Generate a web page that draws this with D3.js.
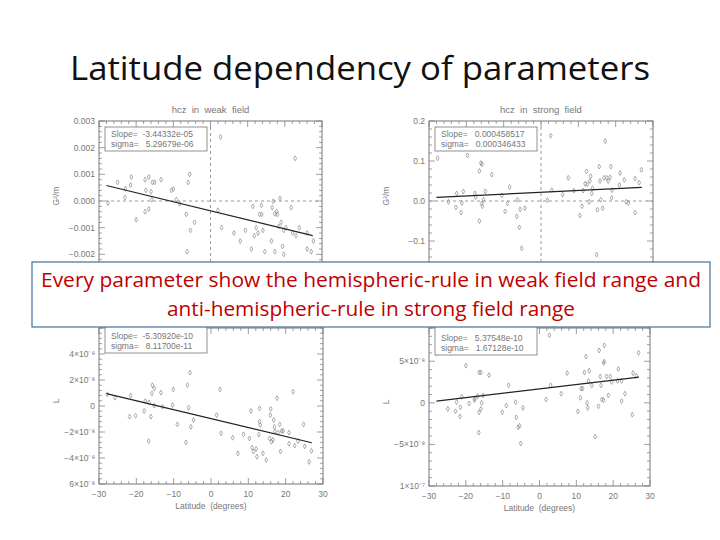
<!DOCTYPE html>
<html><head><meta charset="utf-8">
<script src="https://cdn.jsdelivr.net/npm/d3@7"></script>
<style>body{margin:0;background:#fff}</style>
</head><body><svg id="c" width="720" height="540"></svg>
<script>
const titleText = "Latitude dependency of parameters";
const noteLines = ["Every parameter show the hemispheric-rule in weak field range and","anti-hemispheric-rule in strong field range"];

const panelTitles = ["hcz  in  weak  field","hcz  in  strong  field","",""];
const slopeTexts = [["Slope=  -3.44332e-05","sigma=   5.29679e-06"],["Slope=   0.000458517","sigma=   0.000346433"],["Slope=  -5.30920e-10","sigma=   8.11700e-11"],["Slope=   5.37548e-10","sigma=   1.67128e-10"]];
const yTickVals = [[0.003,0.002,0.001,0,-0.001,-0.002],[0.2,0.1,0,-0.1],[4e-8,2e-8,0,-2e-8,-4e-8,-6e-8],[5e-8,0,-5e-8,-1e-7]];
const yTickLabels = [["0.003","0.002","0.001","0.000","\u22120.001","\u22120.002"],["0.2","0.1","0.0","\u22120.1"],["4\u00d710\u207b\u2078","2\u00d710\u207b\u2078","0","\u22122\u00d710\u207b\u2078","\u22124\u00d710\u207b\u2078","6\u00d710\u207b\u2078"],["5\u00d710\u207b\u2078","0","\u22125\u00d710\u207b\u2078","1\u00d710\u207b\u2077"]];
const yLabels = ["G\u00b2/m","G\u00b2/m","L","L"];
const xTicks = [-30,-20,-10,0,10,20,30];
const xTitle = "Latitude  (degrees)";

// [latitude, value]
const weakHcz = [[-27.6,-0.00008],[-25,0.0007],[-23,0.00013],[-22.9,0.00046],[-21.5,0.0006],[-21.3,0.0009],[-20,-0.0007],[-17.6,0.0008],[-17.4,0.0004],[-17.6,-0.0004],[-16.6,0.0009],[-16.6,-0.0003],[-16,0.00035],[-15.8,0.00005],[-15.6,0.0007],[-15,0.0007],[-13.3,0.0008],[-10.5,0.0004],[-10,0.00045],[-9.2,0.00005],[-8.3,-0.0001],[-6.5,-0.0005],[-6,0.0007],[-5.6,0.001],[-5.4,-0.0011],[-6.3,-0.0019],[-4.3,-0.0008],[2,-0.00035],[3,-0.001],[2.7,0.0024],[6.3,-0.0012],[8,-0.0015],[9.4,-0.0011],[11,-0.0018],[11.4,-0.0002],[11.8,-0.0013],[12.3,-0.001],[12.8,-0.0012],[13.2,-0.0005],[13.7,-0.00016],[13.8,-0.0005],[14.1,-0.0011],[14.6,-0.0019],[16.4,-0.0015],[16.6,-0.00025],[16.9,-0.00001],[17.3,-0.00048],[17.8,-0.0004],[18,-0.0005],[18.4,-0.00095],[18.7,0.0001],[19,-0.0008],[19.4,-0.0017],[19.7,-0.002],[19.7,-0.0011],[20.3,-0.001],[21.7,-0.00025],[22.1,-0.0012],[22.8,0.0016],[23,-0.0013],[23.9,-0.001],[26,-0.0012],[26,-0.0018],[27.1,-0.0019],[27.7,-0.0015],[17.3,-0.0019]];
const strongHcz = [[-27.7,0.107],[-24.8,-0.002],[-22.8,-0.016],[-22.6,0.019],[-21.4,-0.029],[-21.2,-0.005],[-20.8,0.024],[-19.7,0.114],[-17.7,0.019],[-17.5,0.01],[-16.5,-0.05],[-16.5,0.075],[-16.1,0.095],[-15.8,0.092],[-15.9,-0.006],[-15.7,-0.013],[-15.4,0.003],[-14.9,0.024],[-13.2,0.066],[-10.5,0.014],[-9.6,-0.026],[-9,-0.006],[-8.4,0.035],[-6.3,0.003],[-6.5,-0.038],[-5.8,-0.066],[-5.6,-0.021],[-5.2,-0.118],[-4.3,-0.018],[2.6,0.163],[1.7,0.002],[2.9,0.027],[5.8,0.016],[7.3,0.058],[8.8,0.026],[10.4,-0.036],[11,-0.013],[11.3,0.026],[11.8,0.043],[12.2,0.074],[12.4,0.042],[12.9,-0.002],[13.3,0.062],[13.1,0.05],[13.6,0.019],[13.8,0.032],[15.1,-0.022],[15.6,0.086],[15.8,0.05],[16,0.003],[16.5,-0.018],[16.9,0.058],[17.2,0.15],[17.6,0.058],[18,0.05],[18.5,0.059],[18.7,0.086],[19,0.027],[18.9,0.008],[21.2,0.07],[21,0.04],[22.3,0.053],[22.8,-0.002],[23.4,-0.005],[25.2,0.056],[25.2,-0.029],[26.3,0.046],[26.9,0.078],[14.9,-0.134]];
// values in units of 1e-8
const weakL = [[-27.8,0.9],[-25.7,0.64],[-21.8,-0.82],[-21.5,0.8],[-20.2,-0.74],[-17.9,-0.38],[-17.6,0.38],[-16.7,-2.7],[-16.6,0.28],[-16.1,-0.82],[-15.8,0.97],[-15.7,1.6],[-15.2,1.36],[-15.2,0.03],[-13.4,1.03],[-13,-0.05],[-10.3,0.08],[-10.1,1.28],[-9,-1.41],[-6.7,-2.8],[-6.3,1.6],[-5.6,2.56],[-6,-0.13],[-5.4,-1.6],[-4.7,-1.08],[1.5,-0.7],[2.4,1.28],[2.7,-2.1],[5.8,-2.44],[7.2,-3.64],[8.7,-2.18],[10.3,-2.5],[10.7,-0.38],[11,-3.2],[11.4,-3.5],[12.1,-3.3],[12.3,-3.9],[12.8,-2.2],[13,-1.2],[13,-0.18],[13.2,-1.46],[13.9,-3.64],[14.8,-4.15],[15.7,-2.5],[15.9,-0.7],[16,-0.23],[16.2,-2.75],[16.6,-2.6],[16.8,-1.08],[17,-1.6],[17.1,-1.97],[17.7,0.6],[18,-2.05],[18.4,-1.41],[18.6,-3.5],[18.9,-1.92],[19.3,-1.92],[20.9,-2.05],[20.9,-2.9],[22,1.1],[22.4,-3.05],[23.3,-2.7],[24.8,-1.41],[25.1,-3.1],[26.3,-4.3],[26.9,-3.46]];
const strongL = [[-27.9,5.98],[-24.9,-0.73],[-23.7,6.5],[-22.8,-1.02],[-22.5,0.08],[-21.6,-1.63],[-21.5,-0.53],[-21.1,0.73],[-20,4.47],[-19.1,-0.08],[-17.7,0.33],[-17.5,0.49],[-16.8,0.81],[-16.5,-3.58],[-16.4,3.66],[-15.9,3.66],[-16.4,-1.14],[-15.9,-0.73],[-15.7,0],[-15.3,0.9],[-13.7,3.33],[-10.1,-1.14],[-9,-0.33],[-8.4,2.11],[-6.5,0.08],[-6.3,-1.75],[-5.8,-2.93],[-5.4,-2.76],[-5.1,-4.88],[-4.5,-0.61],[1.8,0.41],[2.7,8.13],[3,2.11],[5.9,1.1],[7.5,3.58],[10.4,-1.02],[11.1,0.61],[11.3,1.71],[11.7,1.71],[12.2,3.66],[12.6,5.57],[12.9,0],[13.1,-0.61],[13.3,2.64],[13.5,3.86],[14.2,2.11],[15.1,-4.07],[16,-0.41],[16.2,6.3],[16.5,3.17],[16.7,2.11],[16.9,0.41],[17.4,0.33],[17.4,4.8],[17.6,6.91],[17.6,4.96],[18.2,3.17],[18.7,0.9],[19.2,3.17],[19.6,2.52],[21.2,2.64],[21.4,4.07],[22.3,2.64],[22.3,0.2],[23.2,1.1],[25.2,-1.42],[25.4,3.58],[26.3,3.25],[26.9,6.02]];
const fitLines = [[[-28,0.00058],[27.5,-0.0013]],[[-28,0.009],[27,0.034]],[[-28,0.95],[27,-2.83]],[[-28,0.2],[27,3.1]]];
const scaleFactor = [1,1,1e-8,1e-8];
const seriesData = [weakHcz,strongHcz,weakL,strongL];

const panels = [
 {x0:99,x1:322,y0:121,y1:281,dom:[-0.003,0.003],dashed:true,xaxis:false},
 {x0:429,x1:653,y0:121,y1:281,dom:[-0.2,0.2],dashed:true,xaxis:false},
 {x0:99,x1:323,y0:328,y1:484,dom:[-6e-8,6e-8],dashed:false,xaxis:true},
 {x0:429,x1:650,y0:328,y1:486,dom:[-1e-7,9e-8],dashed:false,xaxis:true}
];
const svg = d3.select("#c");
const gray="#777";
panels.forEach((p,i)=>{
  const g = svg.append("g");
  const x = d3.scaleLinear().domain([-30,30]).range([p.x0,p.x1]);
  const y = d3.scaleLinear().domain(p.dom).range([p.y1,p.y0]);
  const font="Liberation Sans, sans-serif";
  g.append("rect").attr("x",p.x0).attr("y",p.y0).attr("width",p.x1-p.x0).attr("height",p.y1-p.y0).attr("fill","none").attr("stroke",gray).attr("stroke-width",1);
  d3.range(-30,31,2).forEach(t=>{
    const len = t%10===0?6:3;
    g.append("line").attr("x1",x(t)).attr("x2",x(t)).attr("y1",p.y0).attr("y2",p.y0+len).attr("stroke",gray).attr("stroke-width",0.7);
    g.append("line").attr("x1",x(t)).attr("x2",x(t)).attr("y1",p.y1).attr("y2",p.y1-len).attr("stroke",gray).attr("stroke-width",0.7);
  });
  const yt=yTickVals[i];
  const step=Math.abs(yt[0]-yt[1])/5;
  d3.range(p.dom[0],p.dom[1]+step/2,step).forEach(v=>{
    const major=yt.some(t=>Math.abs(t-v)<step/10);
    const len=major?6:3;
    g.append("line").attr("x1",p.x0).attr("x2",p.x0+len).attr("y1",y(v)).attr("y2",y(v)).attr("stroke",gray).attr("stroke-width",0.7);
    g.append("line").attr("x1",p.x1).attr("x2",p.x1-len).attr("y1",y(v)).attr("y2",y(v)).attr("stroke",gray).attr("stroke-width",0.7);
  });
  yt.forEach((v,k)=>{
    g.append("text").attr("x",p.x0-4).attr("y",y(v)+3).attr("text-anchor","end").attr("font-size",8.5).attr("font-family",font).attr("fill",gray).text(yTickLabels[i][k]);
  });
  g.append("text").attr("transform",`translate(${p.x0-40},${(p.y0+p.y1)/2-5}) rotate(-90)`).attr("text-anchor","middle").attr("font-size",8.5).attr("font-family",font).attr("fill",gray).text(yLabels[i]);
  if(panelTitles[i]) g.append("text").attr("x",(p.x0+p.x1)/2).attr("y",p.y0-8).attr("text-anchor","middle").attr("font-size",9.5).attr("font-family",font).attr("fill",gray).style("white-space","pre").text(panelTitles[i]);
  if(p.dashed){
    g.append("line").attr("x1",x(0)).attr("x2",x(0)).attr("y1",p.y0).attr("y2",p.y1).attr("stroke","#999").attr("stroke-dasharray","3,3");
    g.append("line").attr("x1",p.x0).attr("x2",p.x1).attr("y1",y(0)).attr("y2",y(0)).attr("stroke","#999").attr("stroke-dasharray","3,3");
  }
  if(p.xaxis){
    xTicks.forEach(t=>g.append("text").attr("x",x(t)).attr("y",p.y1+13).attr("text-anchor","middle").attr("font-size",8.5).attr("font-family",font).attr("fill",gray).text(t<0?"\u2212"+(-t):t));
    g.append("text").attr("x",(p.x0+p.x1)/2).attr("y",p.y1+25).attr("text-anchor","middle").attr("font-size",8.5).attr("font-family",font).attr("fill",gray).style("white-space","pre").text(xTitle);
  }
  const sf=scaleFactor[i];
  const sym=d3.symbol().type(d3.symbolDiamond).size(7);
  g.selectAll("path.pt").data(seriesData[i]).join("path").attr("class","pt")
    .attr("transform",d=>`translate(${x(d[0])},${y(d[1]*sf)})`).attr("d",sym).attr("fill","none").attr("stroke","#888").attr("stroke-width",0.7);
  const fl=fitLines[i];
  g.append("line").attr("x1",x(fl[0][0])).attr("y1",y(fl[0][1]*sf)).attr("x2",x(fl[1][0])).attr("y2",y(fl[1][1]*sf)).attr("stroke","#222").attr("stroke-width",1.2);
  const ly0 = i<2?127:(p.y0-5);
  const ly1 = i<2?151:(i===2?353:355);
  g.append("rect").attr("x",p.x0+6).attr("y",ly0).attr("width",102).attr("height",ly1-ly0).attr("fill","#fff").attr("stroke",gray).attr("stroke-width",0.8);
  slopeTexts[i].forEach((s,k)=>g.append("text").attr("x",p.x0+12).attr("y",ly1-14+k*10).attr("font-size",8.5).attr("font-family",font).attr("fill",gray).style("white-space","pre").text(s));
});
svg.append("text").attr("x",360).attr("y",80).attr("text-anchor","middle").attr("font-size",33).attr("font-family","Open Sans, sans-serif").attr("fill","#111").attr("textLength",580).attr("lengthAdjust","spacingAndGlyphs").text(titleText);
svg.append("rect").attr("x",32).attr("y",262).attr("width",678).attr("height",65).attr("fill","#fff").attr("stroke","#41719c").attr("stroke-width",1.2);
const noteW=[660,408];
noteLines.forEach((t,k)=>svg.append("text").attr("x",371).attr("y",287+k*29).attr("text-anchor","middle").attr("font-size",20).attr("font-family","Open Sans, sans-serif").attr("fill","#c00000").attr("textLength",noteW[k]).attr("lengthAdjust","spacingAndGlyphs").text(t));
</script></body></html>
